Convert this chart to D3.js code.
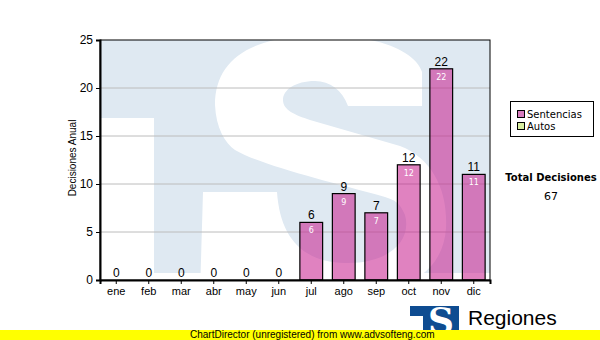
<!DOCTYPE html>
<html>
<head>
<meta charset="utf-8">
<script src="https://cdn.jsdelivr.net/npm/d3@7"></script>
<style>
body { margin: 0; background: #fff; }
svg { display: block; font-family: "Liberation Sans", Arial, sans-serif; }
</style>
</head>
<body>
<svg width="600" height="340"></svg>
<script>
// datos del grafico
var meses = ["ene","feb","mar","abr","may","jun","jul","ago","sep","oct","nov","dic"];
var sentencias = [0,0,0,0,0,0,6,9,7,12,22,11];
var autos = [0,0,0,0,0,0,0,0,0,0,0,0];
var yTicks = [0,5,10,15,20,25];
var series = ["Sentencias","Autos"];
var colores = ["#d77cbd","#d8eea0"];

var svg = d3.select("svg");
var pLeft = 100, pRight = 490, pTop = 40, pBottom = 280;

var xScale = d3.scaleBand().domain(meses).range([pLeft, pRight]).paddingInner(0.3).paddingOuter(0.15);
var yScale = d3.scaleLinear().domain([0, 25]).range([pBottom, pTop]);

svg.append("clipPath").attr("id", "plot")
  .append("rect").attr("x", pLeft).attr("y", pTop).attr("width", pRight - pLeft).attr("height", pBottom - pTop);

// marca de agua (logo TS de fondo)
var sPath = "M215,105 C215,60 250,36 320,35 C375,35 415,50 422,72 L422,106 L348,106 " +
  "C342,90 330,81 315,81 C295,81 283,90 283,100 C283,110 295,115 310,120 L400,146 " +
  "C432,158 448,190 446,228 C444,262 420,290 360,294 L200,294 L203,192 L277,192 " +
  "C280,235 300,262 345,263 C390,264 412,240 405,215 C400,203 395,200 385,197 " +
  "C330,182 260,165 235,150 C225,143 216,128 215,105 Z";
var wm = svg.append("g").attr("clip-path", "url(#plot)");
wm.append("rect").attr("x", pLeft).attr("y", pTop).attr("width", pRight - pLeft).attr("height", 233).attr("fill", "#dfe9f2");
wm.append("rect").attr("x", pLeft).attr("y", 118).attr("width", 54).attr("height", 170).attr("fill", "#fff");
wm.append("path").attr("d", sPath).attr("fill", "#fff");

// grid
svg.append("g").selectAll("line")
  .data(yTicks.slice(1, 5))
  .enter().append("line")
  .attr("x1", pLeft).attr("x2", pRight)
  .attr("y1", function(d) { return yScale(d); })
  .attr("y2", function(d) { return yScale(d); })
  .attr("stroke", "#bcbcbc");

// barras
var filas = meses.map(function(m, i) { return {mes: m, v: sentencias[i], a: autos[i]}; });
svg.append("g").selectAll("rect")
  .data(filas.filter(function(d) { return d.v > 0; }))
  .enter().append("rect")
  .attr("x", function(d) { return xScale(d.mes); })
  .attr("y", function(d) { return yScale(d.v); })
  .attr("width", xScale.bandwidth())
  .attr("height", function(d) { return yScale(0) - yScale(d.v); })
  .attr("fill", "#c61c8c").attr("fill-opacity", 0.55)
  .attr("stroke", "#000").attr("stroke-width", 1.2);

// etiquetas
svg.append("g").selectAll("text")
  .data(filas)
  .enter().append("text")
  .attr("x", function(d) { return xScale(d.mes) + xScale.bandwidth() / 2; })
  .attr("y", function(d) { return yScale(d.v + d.a) - 3; })
  .attr("text-anchor", "middle")
  .attr("font-size", 12)
  .attr("fill", "#000")
  .text(function(d) { return d.v + d.a; });

svg.append("g").selectAll("text")
  .data(filas.filter(function(d) { return d.v > 0; }))
  .enter().append("text")
  .attr("x", function(d) { return xScale(d.mes) + xScale.bandwidth() / 2; })
  .attr("y", function(d) { return yScale(d.v) + 11; })
  .attr("text-anchor", "middle")
  .attr("font-family", "DejaVu Sans")
  .attr("font-size", 8)
  .attr("fill", "#fff")
  .text(function(d) { return d.v; });

// marco
svg.append("rect").attr("x", pLeft).attr("y", pTop).attr("width", pRight - pLeft).attr("height", pBottom - pTop)
  .attr("fill", "none").attr("stroke", "#000");

// ejes
var yAxis = svg.append("g")
  .attr("transform", "translate(" + pLeft + ",0)")
  .call(d3.axisLeft(yScale).tickValues(yTicks).tickSize(4).tickPadding(3));
var xAxis = svg.append("g")
  .attr("transform", "translate(0," + pBottom + ")")
  .call(d3.axisBottom(xScale).tickSize(4).tickPadding(3));
[yAxis, xAxis].forEach(function(g) {
  g.select(".domain").attr("stroke-width", 2);
  g.selectAll("text").attr("font-family", "Liberation Sans, Arial").attr("font-size", 12).attr("fill", "#000");
});
xAxis.selectAll("text").attr("font-size", 11);

svg.append("text")
  .attr("transform", "translate(76,158) rotate(-90)")
  .attr("text-anchor", "middle")
  .attr("font-size", 10)
  .text("Decisiones Anual");

// leyenda
var leg = svg.append("g");
leg.append("rect").attr("x", 510.5).attr("y", 101.5).attr("width", 83).attr("height", 35)
  .attr("fill", "#fff").attr("stroke", "#000");
series.forEach(function(s, i) {
  leg.append("rect").attr("x", 517.5).attr("y", 110.5 + i * 12).attr("width", 7).attr("height", 7)
    .attr("fill", colores[i]).attr("stroke", "#000");
  leg.append("text").attr("x", 527).attr("y", 118 + i * 12)
    .attr("font-family", "DejaVu Sans").attr("font-size", 10).text(s);
});

var total = d3.sum(sentencias) + d3.sum(autos);
svg.append("text").attr("x", 551).attr("y", 181).attr("text-anchor", "middle")
  .attr("font-family", "DejaVu Sans").attr("font-weight", "bold").attr("font-size", 10)
  .text("Total Decisiones");
svg.append("text").attr("x", 551).attr("y", 200).attr("text-anchor", "middle")
  .attr("font-family", "DejaVu Sans").attr("font-size", 11)
  .text(total);

// logo
var logo = svg.append("g");
logo.append("rect").attr("x", 410).attr("y", 306).attr("width", 49).attr("height", 28).attr("fill", "#0e4c91");
logo.append("rect").attr("x", 410).attr("y", 316).attr("width", 13).attr("height", 20).attr("fill", "#fff");
logo.append("text").attr("x", 441).attr("y", 333).attr("text-anchor", "middle")
  .attr("font-family", "DejaVu Serif").attr("font-weight", "bold").attr("font-size", 36)
  .attr("fill", "#fff").text("S");
logo.append("text").attr("x", 468).attr("y", 325).attr("font-size", 21).text("Regiones");
logo.append("text").attr("x", 466).attr("y", 338).attr("font-size", 11).text("Tribunal Superior de Justicia");

// banda amarilla
svg.append("rect").attr("x", 0).attr("y", 330).attr("width", 600).attr("height", 10).attr("fill", "#ffff00");
svg.append("text").attr("x", 190).attr("y", 338).attr("font-size", 10).text("ChartDirector (unregistered) from www.advsofteng.com");
</script>
</body>
</html>
